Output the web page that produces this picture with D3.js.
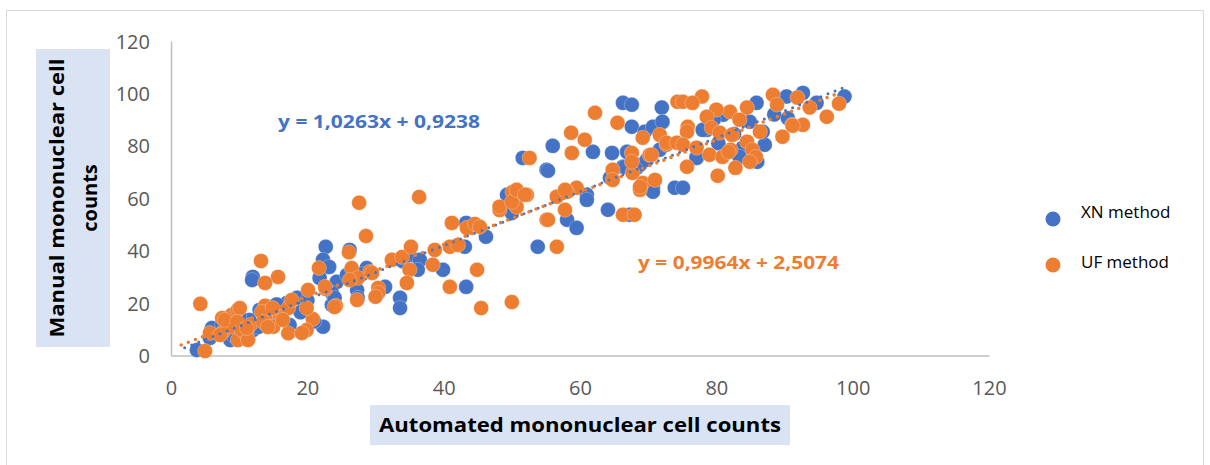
<!DOCTYPE html>
<html>
<head>
<meta charset="utf-8">
<script src="https://cdn.jsdelivr.net/npm/d3@7"></script>
<style>
  html, body { margin: 0; padding: 0; background: #fff; }
  svg { display: block; }
</style>
</head>
<body>
<svg id="chart" width="1210" height="465"></svg>
<script>
// ---------- data ----------
const seriesNames = ["XN method", "UF method"];
const xTicks = [0, 20, 40, 60, 80, 100, 120];
const yTicks = [0, 20, 40, 60, 80, 100, 120];
const equations = ["y = 1,0263x + 0,9238", "y = 0,9964x + 2,5074"];
const slopes = [1.0263, 0.9964];
const intercepts = [0.9238, 2.5074];
const trendXN = [2.0, 99.1];
const trendUF = [1.5, 98.1];

const xnAuto = [3.8,6.2,5.7,6.0,8.7,12.0,11.9,13.0,14.5,12.0,12.8,17.0,18.5,17.4,22.3,22.7,22.3,23.2,21.8,24.3,23.6,23.6,24.0,27.3,25.8,26.2,28.7,27.4,31.4,33.6,33.6,35.0,36.5,36.2,39.9,43.3,43.3,46.2,43.1,53.8,49.4,51.6,55.1,56.0,50.0,49.3,55.3,58.1,59.5,61.0,61.0,61.9,64.7,64.1,64.4,66.3,68.3,68.8,66.6,66.3,67.6,72.0,72.0,67.6,69.5,70.7,72.1,66.9,71.7,70.7,73.9,75.1,70.7,67.3,69.8,77.1,77.1,78.6,78.0,81.0,84.9,85.9,90.3,92.7,94.7,98.8,87.1,86.8,83.9,83.4,86.0,7.5,9.0,10.5,11.5,14.0,16.0,19.0,20.0,21.0,15.5,10.0,80.3,82.6,88.5,90.5,79.6,28.0,34.0];
const xnManual = [2.1,9.7,6.7,10.5,5.9,30.0,28.8,17.4,18.5,9.7,10.9,20.0,22.0,11.6,11.0,41.5,36.5,33.8,29.6,28.1,23.9,19.3,22.0,25.0,30.7,40.3,33.4,22.0,26.2,22.0,18.1,38.3,36.5,32.7,32.7,26.2,50.6,45.3,41.5,41.5,61.3,75.4,70.9,80.0,54.4,61.3,70.5,51.8,48.7,61.3,59.4,77.7,77.3,55.6,67.8,72.0,71.6,72.8,72.0,96.4,95.7,94.6,88.8,87.3,85.4,87.3,89.2,77.7,78.5,64.0,64.0,64.0,62.5,53.7,74.7,75.8,75.4,86.1,86.1,91.9,89.2,96.4,98.8,100.2,96.4,98.8,80.4,85.4,79.3,75.8,73.9,12.0,8.0,7.0,13.5,14.0,15.0,16.5,21.0,13.0,19.5,15.0,81.0,84.5,92.0,90.5,90.0,31.0,36.0];

const ufAuto = [4.3,5.0,13.2,15.7,13.8,28.6,26.1,21.7,26.5,27.3,24.2,20.1,22.7,29.2,20.8,19.9,17.2,15.7,13.8,13.8,15.0,11.6,9.8,8.9,9.8,7.5,7.6,5.7,8.7,11.1,7.2,7.9,10.1,9.7,10.4,11.3,11.1,13.3,13.5,14.2,14.9,17.2,19.2,17.7,16.4,19.9,22.6,27.6,36.4,29.5,27.4,30.4,30.4,24.0,32.4,33.9,35.2,35.0,34.6,38.4,38.7,40.9,42.1,40.9,44.9,45.5,50.0,41.2,43.4,44.6,48.2,50.1,52.2,50.7,55.1,52.6,30.0,26.2,45.3,48.2,50.0,50.7,51.9,62.2,65.5,58.7,60.7,58.8,74.3,69.2,71.7,67.6,70.2,64.8,64.8,67.7,69.2,71.0,68.8,59.5,58.1,56.6,57.8,55.3,56.6,66.3,68.0,57.8,67.6,72.7,75.1,77.9,76.5,88.3,88.9,91.9,93.7,98.0,96.2,92.7,91.1,89.7,86.4,84.5,82.0,80.0,78.6,79.3,80.5,82.3,83.4,75.8,75.7,72.7,74.2,75.1,77.1,70.5,79.0,80.9,82.1,84.5,85.3,85.8,84.9,75.7,80.2,82.8,68.8,91.2,81.8];
const ufManual = [19.7,1.7,36.1,30.0,27.7,45.6,39.4,33.4,33.4,21.2,19.0,25.0,25.4,32.0,13.9,9.7,8.5,16.3,19.0,14.7,11.0,11.6,5.9,15.5,17.4,14.3,8.9,8.6,11.0,7.8,7.8,13.6,18.1,12.8,9.7,5.9,10.5,16.6,12.8,10.9,18.1,18.1,8.6,21.2,13.6,18.1,26.2,58.3,60.5,31.5,29.6,25.8,23.9,18.5,36.5,37.6,41.5,32.7,27.7,34.6,40.3,41.5,42.2,26.2,32.7,18.1,20.4,50.6,48.7,50.2,55.5,62.4,61.3,56.7,51.8,75.4,22.4,28.8,49.1,56.8,58.6,63.2,61.3,92.6,88.8,85.0,82.3,77.3,96.8,83.1,84.2,77.3,76.5,70.9,67.0,69.7,65.8,67.0,63.2,64.0,62.5,60.6,55.6,51.8,41.5,53.7,53.7,63.2,73.9,80.4,96.8,98.8,96.4,99.5,95.7,98.4,94.6,96.1,91.1,88.0,88.0,83.5,85.4,94.6,93.0,93.8,91.1,86.9,85.0,84.2,90.0,87.3,85.4,81.2,81.2,80.4,79.3,76.6,76.6,75.8,78.5,81.6,78.5,75.8,73.9,72.0,68.6,71.6,64.4,87.7,77.7];

// ---------- styles ----------
const colors = ["#4472C4", "#ED7D31"];

const svg = d3.select("#chart");

// outer border
svg.append("rect")
  .attr("x", 6.5).attr("y", 10.5)
  .attr("width", 1197).attr("height", 470)
  .attr("fill", "#fff").attr("stroke", "#d9d9d9").attr("stroke-width", 1);

const x = d3.scaleLinear().domain([0, 120]).range([171, 989]);
const y = d3.scaleLinear().domain([0, 120]).range([355.5, 41]);

// axes
const yAxis = svg.append("g")
  .attr("transform", `translate(${x(0)},0)`)
  .call(d3.axisLeft(y).tickValues(yTicks).tickSize(0).tickSizeOuter(0).tickFormat(d3.format("d")));
yAxis.select(".domain").attr("stroke", "#bfbfbf").attr("stroke-width", 1.5);
yAxis.selectAll("text")
  .attr("x", -21).attr("dy", "0.35em")
  .attr("fill", "#595959")
  .style("font-family", "'Open Sans', sans-serif").style("font-size", "20px");

const xAxis = svg.append("g")
  .attr("transform", `translate(0,${y(0)})`)
  .call(d3.axisBottom(x).tickValues(xTicks).tickSize(0).tickSizeOuter(0).tickFormat(d3.format("d")));
xAxis.select(".domain").attr("stroke", "#bfbfbf").attr("stroke-width", 1.5);
xAxis.selectAll("text")
  .attr("y", 32).attr("dy", "0.35em")
  .attr("fill", "#595959")
  .style("font-family", "'Open Sans', sans-serif").style("font-size", "20px");

// axis titles
const tfont = "'Open Sans', sans-serif";
svg.append("rect").attr("x", 370).attr("y", 405).attr("width", 420).attr("height", 40).attr("fill", "#dae3f3");
svg.append("text").attr("x", 580).attr("y", 425).attr("dy", "0.35em")
  .attr("text-anchor", "middle")
  .attr("textLength", 402).attr("lengthAdjust", "spacingAndGlyphs")
  .style("font-family", tfont).style("font-size", "20px").style("font-weight", "bold")
  .attr("fill", "#000").text("Automated mononuclear cell counts");

svg.append("rect").attr("x", 36).attr("y", 49).attr("width", 74).attr("height", 298).attr("fill", "#dae3f3");
const ytitle = svg.append("g").attr("transform", "translate(57,198) rotate(-90)");
ytitle.append("text").attr("x", 0).attr("y", 0).attr("dy", "0.35em")
  .attr("text-anchor", "middle")
  .attr("textLength", 279).attr("lengthAdjust", "spacingAndGlyphs")
  .style("font-family", tfont).style("font-size", "20px").style("font-weight", "bold")
  .attr("fill", "#000").text("Manual mononuclear cell");
ytitle.append("text").attr("x", 0).attr("y", 33).attr("dy", "0.35em")
  .attr("text-anchor", "middle")
  .style("font-family", tfont).style("font-size", "20px").style("font-weight", "bold")
  .attr("fill", "#000").text("counts");

// points
const xnData = xnAuto.map((v, i) => ({ a: v, m: xnManual[i] }));
const ufData = ufAuto.map((v, i) => ({ a: v, m: ufManual[i] }));

[xnData, ufData].forEach((data, k) => {
  svg.append("g").selectAll("circle").data(data).join("circle")
    .attr("cx", d => x(d.a)).attr("cy", d => y(d.m)).attr("r", 7.5)
    .attr("fill", colors[k])
    .attr("stroke", "#ffffff").attr("stroke-opacity", 0.45).attr("stroke-width", 0.6);
});

// trendlines
const trends = [trendXN, trendUF];
const line = d3.line().x(d => x(d[0])).y(d => y(d[1]));
trends.forEach((r, k) => {
  const pts = r.map(v => [v, slopes[k] * v + intercepts[k]]);
  svg.append("path").attr("d", line(pts))
    .attr("fill", "none").attr("stroke", colors[k])
    .attr("stroke-width", k === 0 ? 3 : 3.6)
    .attr("stroke-linecap", "round")
    .attr("stroke-dasharray", "0 7.6");
});

// equations
svg.append("text").attr("x", 278).attr("y", 122).attr("dy", "0.35em")
  .attr("textLength", 202).attr("lengthAdjust", "spacingAndGlyphs")
  .style("font-family", tfont).style("font-size", "17px").style("font-weight", "bold")
  .attr("fill", colors[0]).text(equations[0]);
svg.append("text").attr("x", 638).attr("y", 263).attr("dy", "0.35em")
  .attr("textLength", 201).attr("lengthAdjust", "spacingAndGlyphs")
  .style("font-family", tfont).style("font-size", "17px").style("font-weight", "bold")
  .attr("fill", colors[1]).text(equations[1]);

// legend
const legY = [219, 265];
const legTY = [212, 262];
seriesNames.forEach((n, k) => {
  svg.append("circle").attr("cx", 1053).attr("cy", legY[k]).attr("r", 7.5).attr("fill", colors[k]);
  svg.append("text").attr("x", 1081).attr("y", legTY[k]).attr("dy", "0.35em")
    .style("font-family", tfont).style("font-size", "17px")
    .attr("fill", "#000").text(n);
});
</script>
</body>
</html>
